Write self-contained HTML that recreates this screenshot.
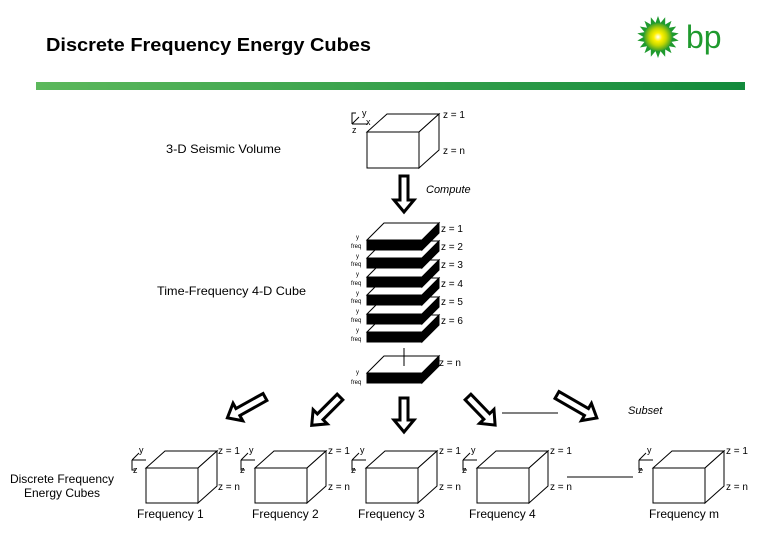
<!DOCTYPE html>
<html><head><meta charset="utf-8"><style>
html,body{margin:0;padding:0;background:#fff;}
svg{display:block;font-family:"Liberation Sans",sans-serif;}
</style></head><body>
<svg width="780" height="540" viewBox="0 0 780 540" xmlns="http://www.w3.org/2000/svg">
<defs>
<linearGradient id="bar" x1="0" x2="1"><stop offset="0" stop-color="#5cb85c"/><stop offset="1" stop-color="#128a3c"/></linearGradient>
<radialGradient id="sun"><stop offset="0" stop-color="#ffffff"/><stop offset="0.3" stop-color="#fff200"/><stop offset="0.6" stop-color="#c6d800"/><stop offset="1" stop-color="#3aa02a"/></radialGradient>
</defs>
<text x="46" y="51" font-size="18" font-weight="bold" textLength="325" lengthAdjust="spacingAndGlyphs">Discrete Frequency Energy Cubes</text>
<g transform="translate(658,37)">
<g fill="#1f9a2e">
<polygon points="0,-21 4,-10 -4,-10" transform="rotate(0)"/><polygon points="0,-21 4,-10 -4,-10" transform="rotate(20)"/><polygon points="0,-21 4,-10 -4,-10" transform="rotate(40)"/><polygon points="0,-21 4,-10 -4,-10" transform="rotate(60)"/><polygon points="0,-21 4,-10 -4,-10" transform="rotate(80)"/><polygon points="0,-21 4,-10 -4,-10" transform="rotate(100)"/><polygon points="0,-21 4,-10 -4,-10" transform="rotate(120)"/><polygon points="0,-21 4,-10 -4,-10" transform="rotate(140)"/><polygon points="0,-21 4,-10 -4,-10" transform="rotate(160)"/><polygon points="0,-21 4,-10 -4,-10" transform="rotate(180)"/><polygon points="0,-21 4,-10 -4,-10" transform="rotate(200)"/><polygon points="0,-21 4,-10 -4,-10" transform="rotate(220)"/><polygon points="0,-21 4,-10 -4,-10" transform="rotate(240)"/><polygon points="0,-21 4,-10 -4,-10" transform="rotate(260)"/><polygon points="0,-21 4,-10 -4,-10" transform="rotate(280)"/><polygon points="0,-21 4,-10 -4,-10" transform="rotate(300)"/><polygon points="0,-21 4,-10 -4,-10" transform="rotate(320)"/><polygon points="0,-21 4,-10 -4,-10" transform="rotate(340)"/>
</g>
<circle r="14" fill="url(#sun)"/>
</g>
<text x="686" y="48" font-size="32" fill="#1f9a2e">bp</text>
<rect x="36" y="82" width="709" height="8" fill="url(#bar)"/>

<g stroke="#000" stroke-width="1" fill="none">
<polygon points="367,132 387,114 439,114 419,132" fill="#fff"/>
<polygon points="419,132 439,114 439,150 419,168" fill="#fff"/>
<rect x="367" y="132" width="52" height="36" fill="#fff"/>
<polyline points="352,124 352,113 356,113"/><line x1="352" y1="124" x2="368" y2="124"/><line x1="352" y1="124" x2="359" y2="117"/>
</g>
<g font-size="10">
<text x="362" y="116" font-size="9">y</text><text x="366" y="125" font-size="9">x</text><text x="352" y="133" font-size="9">z</text>
<text x="443" y="118">z = 1</text><text x="443" y="154">z = n</text>
<text x="166" y="153" font-size="12" textLength="115" lengthAdjust="spacingAndGlyphs">3-D Seismic Volume</text>
<text x="426" y="193" font-style="italic" font-size="11">Compute</text>
<text x="157" y="295" font-size="12" textLength="149" lengthAdjust="spacingAndGlyphs">Time-Frequency 4-D Cube</text>
</g>

<g stroke="#000" stroke-width="1">
<g><polygon points="367,332 384,315 439,315 422,332" fill="#fff"/><rect x="367" y="332" width="55" height="10" fill="#000"/><polygon points="422,332 439,315 439,325 422,342" fill="#000"/></g>
<g><polygon points="367,314 384,297 439,297 422,314" fill="#fff"/><rect x="367" y="314" width="55" height="10" fill="#000"/><polygon points="422,314 439,297 439,307 422,324" fill="#000"/></g>
<g><polygon points="367,295 384,278 439,278 422,295" fill="#fff"/><rect x="367" y="295" width="55" height="10" fill="#000"/><polygon points="422,295 439,278 439,288 422,305" fill="#000"/></g>
<g><polygon points="367,277 384,260 439,260 422,277" fill="#fff"/><rect x="367" y="277" width="55" height="10" fill="#000"/><polygon points="422,277 439,260 439,270 422,287" fill="#000"/></g>
<g><polygon points="367,258 384,241 439,241 422,258" fill="#fff"/><rect x="367" y="258" width="55" height="10" fill="#000"/><polygon points="422,258 439,241 439,251 422,268" fill="#000"/></g>
<g><polygon points="367,240 384,223 439,223 422,240" fill="#fff"/><rect x="367" y="240" width="55" height="10" fill="#000"/><polygon points="422,240 439,223 439,233 422,250" fill="#000"/></g>
<g><polygon points="367,373 384,356 439,356 422,373" fill="#fff"/><rect x="367" y="373" width="55" height="10" fill="#000"/><polygon points="422,373 439,356 439,366 422,383" fill="#000"/></g>
<line x1="404" y1="348" x2="404" y2="366"/>
</g>
<g font-size="10">
<text x="441" y="232">z = 1</text><text x="441" y="250">z = 2</text><text x="441" y="268">z = 3</text><text x="441" y="287">z = 4</text><text x="441" y="305">z = 5</text><text x="441" y="324">z = 6</text><text x="439" y="366">z = n</text>
</g>
<g font-size="6">
<text x="356" y="239">y</text><text x="351" y="248">freq</text>
<text x="356" y="258">y</text><text x="351" y="266">freq</text>
<text x="356" y="276">y</text><text x="351" y="285">freq</text>
<text x="356" y="295">y</text><text x="351" y="303">freq</text>
<text x="356" y="313">y</text><text x="351" y="322">freq</text>
<text x="356" y="332">y</text><text x="351" y="341">freq</text>
<text x="356" y="374">y</text><text x="351" y="384">freq</text>
</g>

<g stroke="#000" stroke-width="3" fill="#fff">
<polygon transform="translate(404,176) rotate(90)" points="0,-4 24,-4 24,-10 36,0 24,10 24,4 0,4"/>
<polygon transform="translate(265,397) rotate(151)" points="0,-4 31,-4 31,-10 43,0 31,10 31,4 0,4"/>
<polygon transform="translate(340,397) rotate(135)" points="0,-4 28,-4 28,-10 40,0 28,10 28,4 0,4"/>
<polygon transform="translate(404,398) rotate(90)" points="0,-4 22,-4 22,-10 34,0 22,10 22,4 0,4"/>
<polygon transform="translate(468,397) rotate(46)" points="0,-4 27,-4 27,-10 39,0 27,10 27,4 0,4"/>
<polygon transform="translate(557,395) rotate(30)" points="0,-4 34,-4 34,-10 46,0 34,10 34,4 0,4"/>
</g>
<g stroke="#000" stroke-width="1"><line x1="502" y1="413" x2="558" y2="413"/><line x1="567" y1="477" x2="633" y2="477"/></g>
<text x="628" y="414" font-size="11" font-style="italic">Subset</text>

<g stroke="#000" stroke-width="1" fill="#fff">
<g transform="translate(146,0)"><polygon points="0,468 19,451 71,451 52,468"/><polygon points="52,468 71,451 71,486 52,503"/><rect x="0" y="468" width="52" height="35"/><polyline fill="none" points="-14,460 -14,470 -10,470"/><line x1="-14" y1="460" x2="0" y2="460"/><line x1="-14" y1="460" x2="-7" y2="453"/></g>
<g transform="translate(255,0)"><polygon points="0,468 19,451 71,451 52,468"/><polygon points="52,468 71,451 71,486 52,503"/><rect x="0" y="468" width="52" height="35"/><polyline fill="none" points="-14,460 -14,470 -10,470"/><line x1="-14" y1="460" x2="0" y2="460"/><line x1="-14" y1="460" x2="-7" y2="453"/></g>
<g transform="translate(366,0)"><polygon points="0,468 19,451 71,451 52,468"/><polygon points="52,468 71,451 71,486 52,503"/><rect x="0" y="468" width="52" height="35"/><polyline fill="none" points="-14,460 -14,470 -10,470"/><line x1="-14" y1="460" x2="0" y2="460"/><line x1="-14" y1="460" x2="-7" y2="453"/></g>
<g transform="translate(477,0)"><polygon points="0,468 19,451 71,451 52,468"/><polygon points="52,468 71,451 71,486 52,503"/><rect x="0" y="468" width="52" height="35"/><polyline fill="none" points="-14,460 -14,470 -10,470"/><line x1="-14" y1="460" x2="0" y2="460"/><line x1="-14" y1="460" x2="-7" y2="453"/></g>
<g transform="translate(653,0)"><polygon points="0,468 19,451 71,451 52,468"/><polygon points="52,468 71,451 71,486 52,503"/><rect x="0" y="468" width="52" height="35"/><polyline fill="none" points="-14,460 -14,470 -10,470"/><line x1="-14" y1="460" x2="0" y2="460"/><line x1="-14" y1="460" x2="-7" y2="453"/></g>
</g>
<g font-size="10">
<text x="139" y="453" font-size="9">y</text><text x="133" y="473" font-size="9">z</text><text x="218" y="454">z = 1</text><text x="218" y="490">z = n</text>
<text x="249" y="453" font-size="9">y</text><text x="240" y="473" font-size="9">z</text><text x="328" y="454">z = 1</text><text x="328" y="490">z = n</text>
<text x="360" y="453" font-size="9">y</text><text x="351" y="473" font-size="9">z</text><text x="439" y="454">z = 1</text><text x="439" y="490">z = n</text>
<text x="471" y="453" font-size="9">y</text><text x="462" y="473" font-size="9">z</text><text x="550" y="454">z = 1</text><text x="550" y="490">z = n</text>
<text x="647" y="453" font-size="9">y</text><text x="638" y="473" font-size="9">z</text><text x="726" y="454">z = 1</text><text x="726" y="490">z = n</text>
</g>
<g font-size="12">
<text x="137" y="518">Frequency 1</text><text x="252" y="518">Frequency 2</text><text x="358" y="518">Frequency 3</text><text x="469" y="518">Frequency 4</text><text x="649" y="518">Frequency m</text>
<text x="62" y="483" text-anchor="middle">Discrete Frequency</text><text x="62" y="497" text-anchor="middle">Energy Cubes</text>
</g>
</svg>
</body></html>
